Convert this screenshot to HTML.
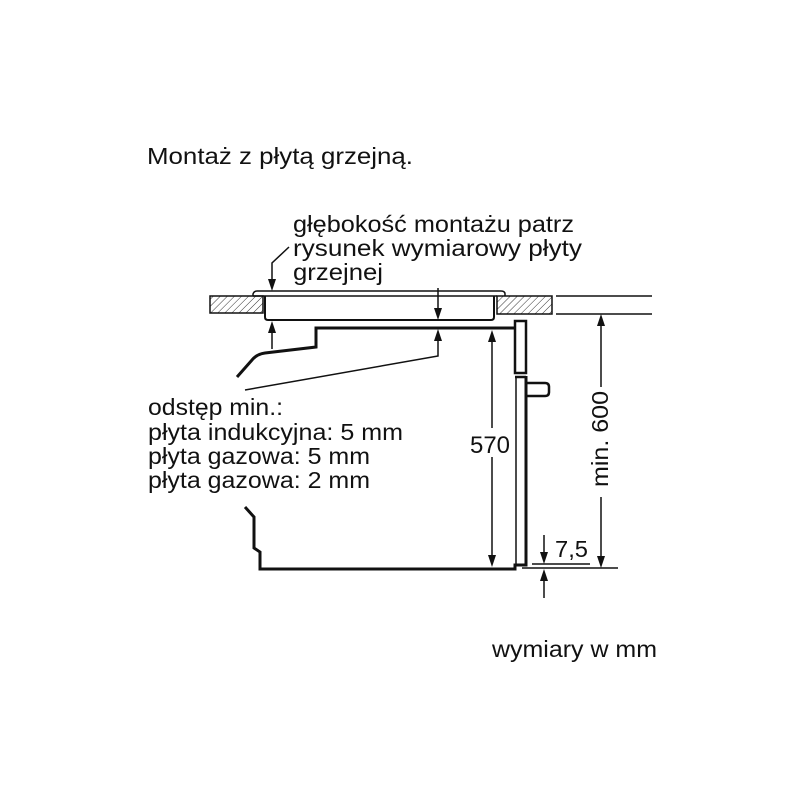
<!DOCTYPE html>
<html>
<head>
<meta charset="utf-8">
<style>
html,body{margin:0;padding:0;background:#fff;}
svg{display:block;}
text{font-family:"Liberation Sans",Arial,sans-serif;fill:#111;}
</style>
</head>
<body>
<svg width="800" height="800" viewBox="0 0 800 800" xmlns="http://www.w3.org/2000/svg">
<defs>
<pattern id="h" patternUnits="userSpaceOnUse" width="5" height="5" patternTransform="rotate(45)">
<line x1="0" y1="0" x2="0" y2="5" stroke="#333" stroke-width="1"/>
</pattern>
</defs>

<!-- Texts -->
<text x="147" y="164" font-size="23" textLength="266" lengthAdjust="spacingAndGlyphs">Montaż z płytą grzejną.</text>
<text x="293" y="232" font-size="23" textLength="281" lengthAdjust="spacingAndGlyphs">głębokość montażu patrz</text>
<text x="293" y="256" font-size="23" textLength="289" lengthAdjust="spacingAndGlyphs">rysunek wymiarowy płyty</text>
<text x="293" y="280" font-size="23" textLength="90" lengthAdjust="spacingAndGlyphs">grzejnej</text>

<text x="148" y="415" font-size="23" textLength="135" lengthAdjust="spacingAndGlyphs">odstęp min.:</text>
<text x="148" y="440" font-size="23" textLength="255" lengthAdjust="spacingAndGlyphs">płyta indukcyjna: 5 mm</text>
<text x="148" y="464" font-size="23" textLength="222" lengthAdjust="spacingAndGlyphs">płyta gazowa: 5 mm</text>
<text x="148" y="488" font-size="23" textLength="222" lengthAdjust="spacingAndGlyphs">płyta gazowa: 2 mm</text>

<text x="492" y="657" font-size="23" textLength="165" lengthAdjust="spacingAndGlyphs">wymiary w mm</text>

<text x="470" y="453" font-size="24" textLength="40" lengthAdjust="spacingAndGlyphs">570</text>
<text x="555" y="557" font-size="23" textLength="33" lengthAdjust="spacingAndGlyphs">7,5</text>
<text transform="translate(608,487) rotate(-90)" x="0" y="0" font-size="23" textLength="96" lengthAdjust="spacingAndGlyphs">min. 600</text>

<!-- Hatched blocks -->
<rect x="210" y="296" width="53" height="17" fill="url(#h)" stroke="#111" stroke-width="1.5"/>
<rect x="497" y="296" width="55" height="18" fill="url(#h)" stroke="#111" stroke-width="1.5"/>

<!-- Right reference lines -->
<line x1="556" y1="296" x2="652" y2="296" stroke="#111" stroke-width="1.5"/>
<line x1="556" y1="314" x2="652" y2="314" stroke="#111" stroke-width="1.5"/>

<!-- Hob -->
<path d="M253,296 L253,294 Q254,291 257,291 L501,291 Q505,291 505,294 L505,296" fill="none" stroke="#111" stroke-width="1.5"/>
<line x1="253" y1="296" x2="497" y2="296" stroke="#111" stroke-width="1.5"/>
<path d="M265,296 L265,317 Q265,320 268,320 L491,320 Q494,320 494,317 L494,296" fill="none" stroke="#111" stroke-width="2"/>

<!-- Oven top outline -->
<path d="M237,377 L252,360 Q257,354 265,353 L316,347 L316,328 L515,328" fill="none" stroke="#111" stroke-width="3"/>

<!-- Door upper panel -->
<rect x="515" y="321" width="11" height="52" fill="none" stroke="#111" stroke-width="2.5"/>
<!-- Door lower -->
<path d="M515,377 L526,377" fill="none" stroke="#111" stroke-width="2.5"/>
<line x1="516" y1="377" x2="516" y2="565" stroke="#111" stroke-width="1.5"/>
<path d="M526,376 L526,565 L515,565 L515,569 L260,569 L260,552 L254,548 L254,517 L245,507" fill="none" stroke="#111" stroke-width="3"/>
<!-- Handle -->
<path d="M526,383 L545,383 Q549,383 549,387 L549,392 Q549,396 545,396 L526,396" fill="none" stroke="#111" stroke-width="2.5"/>

<!-- Left arrows at x=272 -->
<polyline points="289,247 272,263 272,280" fill="none" stroke="#111" stroke-width="1.5"/>
<polygon points="268,279 276,279 272,291" fill="#111"/>
<line x1="272" y1="332" x2="272" y2="349" stroke="#111" stroke-width="1.5"/>
<polygon points="268,333 276,333 272,321" fill="#111"/>

<!-- Center arrows at x=438 -->
<line x1="438" y1="288" x2="438" y2="309" stroke="#111" stroke-width="1.5"/>
<polygon points="434,308 442,308 438,320" fill="#111"/>
<polyline points="438,340 438,356 245,390" fill="none" stroke="#111" stroke-width="1.5"/>
<polygon points="434,341 442,341 438,329" fill="#111"/>

<!-- 570 dimension -->
<line x1="492" y1="341" x2="492" y2="428" stroke="#111" stroke-width="1.5"/>
<polygon points="488,342 496,342 492,330" fill="#111"/>
<line x1="492" y1="457" x2="492" y2="556" stroke="#111" stroke-width="1.5"/>
<polygon points="488,555 496,555 492,567" fill="#111"/>

<!-- min 600 dimension -->
<line x1="601" y1="325" x2="601" y2="387" stroke="#111" stroke-width="1.5"/>
<polygon points="597,326 605,326 601,314" fill="#111"/>
<line x1="601" y1="497" x2="601" y2="557" stroke="#111" stroke-width="1.5"/>
<polygon points="597,556 605,556 601,568" fill="#111"/>
<line x1="522" y1="568" x2="618" y2="568" stroke="#111" stroke-width="1.5"/>

<!-- 7,5 dimension -->
<line x1="532" y1="564" x2="590" y2="564" stroke="#111" stroke-width="1.5"/>
<line x1="544" y1="535" x2="544" y2="553" stroke="#111" stroke-width="1.5"/>
<polygon points="540,552 548,552 544,564" fill="#111"/>
<line x1="544" y1="580" x2="544" y2="598" stroke="#111" stroke-width="1.5"/>
<polygon points="540,581 548,581 544,569" fill="#111"/>
</svg>
</body>
</html>
